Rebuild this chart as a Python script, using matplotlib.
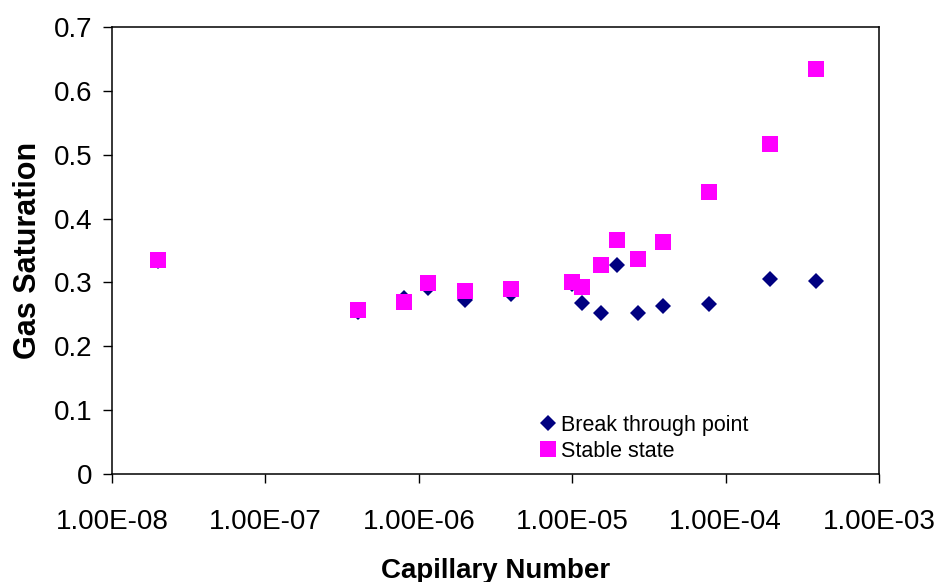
import numpy as np
import matplotlib
matplotlib.use("Agg")
import matplotlib.pyplot as plt
from matplotlib.ticker import FixedLocator, FuncFormatter, NullLocator

plt.rcParams['font.family'] = ['Liberation Sans', 'DejaVu Sans']

# capillary number vs gas saturation
ca_break = [2.0e-8, 4.0e-7, 8.0e-7, 1.15e-6, 2.0e-6, 4.0e-6, 1.0e-5, 1.15e-5,
            1.55e-5, 1.95e-5, 2.7e-5, 3.9e-5, 7.8e-5, 1.95e-4, 3.9e-4]
sg_break = [0.333, 0.253, 0.276, 0.291, 0.272, 0.282, 0.298, 0.268,
            0.252, 0.327, 0.252, 0.263, 0.266, 0.305, 0.302]

ca_stable = [2.0e-8, 4.0e-7, 8.0e-7, 1.15e-6, 2.0e-6, 4.0e-6, 1.0e-5, 1.15e-5,
             1.55e-5, 1.95e-5, 2.7e-5, 3.9e-5, 7.8e-5, 1.95e-4, 3.9e-4]
sg_stable = [0.335, 0.257, 0.269, 0.299, 0.286, 0.290, 0.300, 0.293,
             0.327, 0.366, 0.336, 0.363, 0.441, 0.516, 0.635]

x_ticks = [1e-8, 1e-7, 1e-6, 1e-5, 1e-4, 1e-3]
y_ticks = [0, 0.1, 0.2, 0.3, 0.4, 0.5, 0.6, 0.7]

fig = plt.figure(figsize=(9.39, 5.82), dpi=100)
ax = fig.add_axes([0.1193, 0.1856, 0.8168, 0.768])

ax.plot(ca_break, sg_break, linestyle='none', marker='D', markersize=8.2,
        color='#000080', markeredgewidth=0, label='Break through point')
ax.plot(ca_stable, sg_stable, linestyle='none', marker='s', markersize=11.5,
        color='#FF00FF', markeredgewidth=0, label='Stable state')

ax.set_xscale('log')
ax.set_xlim(1e-8, 1e-3)
ax.set_ylim(0, 0.7)
ax.xaxis.set_major_locator(FixedLocator(x_ticks))
ax.xaxis.set_minor_locator(NullLocator())
ax.xaxis.set_major_formatter(FuncFormatter(lambda v, p: '%.2E' % v))
ax.yaxis.set_major_locator(FixedLocator(y_ticks))
ax.yaxis.set_major_formatter(FuncFormatter(lambda v, p: '%g' % v))

ax.tick_params(axis='both', direction='out', length=6.5, width=1,
               labelsize=20, color='black')
ax.tick_params(axis='x', pad=18.5)
ax.tick_params(axis='y', pad=7.5)
for s in ax.spines.values():
    s.set_linewidth(1.1)
    s.set_color('black')

ax.set_xlabel('Capillary Number', fontsize=20, fontweight='bold', labelpad=16.5)
ax.set_ylabel('Gas Saturation', fontsize=22, fontweight='bold', labelpad=8)

ax.legend(loc='upper left', bbox_to_anchor=(0.543, 0.152), frameon=False,
          fontsize=15.5, handletextpad=0.1, borderaxespad=0, labelspacing=0.25,
          handlelength=1.0)

fig.savefig('out.png', dpi=100, facecolor='white')
